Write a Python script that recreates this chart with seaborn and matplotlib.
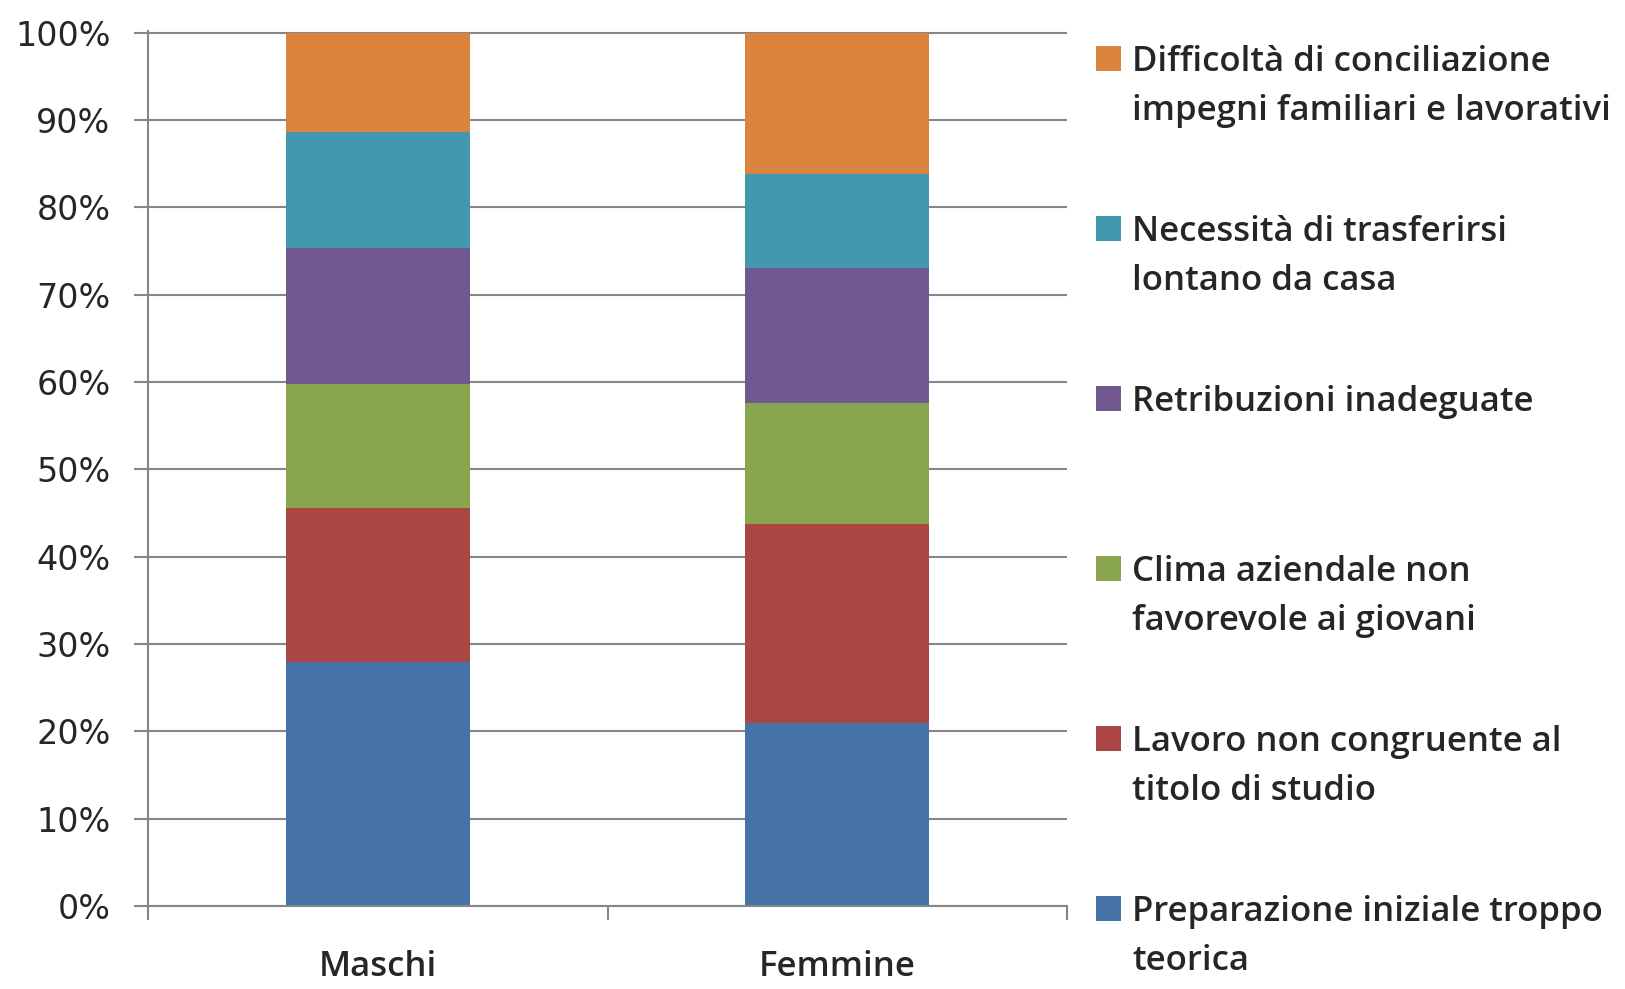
import matplotlib.pyplot as plt
import pandas as pd
import seaborn as sns
from matplotlib.patches import Rectangle
from matplotlib.ticker import FixedLocator, PercentFormatter

sns.set_theme(style="white")
plt.rcParams["font.family"] = ["DejaVu Sans"]

W, H = 1625, 989
GRID = "#868686"
TEXT_FONT = ["Open Sans", "DejaVu Sans"]

categories = ["Maschi", "Femmine"]
series = [
    "Preparazione iniziale troppo\nteorica",
    "Lavoro non congruente al\ntitolo di studio",
    "Clima aziendale non\nfavorevole ai giovani",
    "Retribuzioni inadeguate",
    "Necessità di trasferirsi\nlontano da casa",
    "Difficoltà di conciliazione\nimpegni familiari e lavorativi",
]
colors = ["#4572A7", "#AA4643", "#89A54E", "#71588F", "#4198AF", "#DB843D"]
maschi = [27.9, 17.7, 14.2, 15.5, 13.3, 11.4]
femmine = [20.9, 22.8, 13.9, 15.5, 10.7, 16.2]

rows = []
for i, s in enumerate(series):
    for cat, vals in zip(categories, [maschi, femmine]):
        rows.append({"category": cat, "series": s, "value": vals[i]})
df = pd.DataFrame(rows)
df["cum"] = df.groupby("category")["value"].cumsum()

fig = plt.figure(figsize=(W / 100, H / 100), dpi=100)
ax = fig.add_axes([148 / W, 1 - 906 / H, (1067 - 148) / W, (906 - 31) / H])

# stacked bars: draw cumulative totals from the top series down
for s, c in reversed(list(zip(series, colors))):
    sub = df[df["series"] == s]
    sns.barplot(
        data=sub, x="category", y="cum", order=categories, color=c,
        width=0.4, linewidth=0, saturation=1, errorbar=None, ax=ax, zorder=2,
    )

ax.set_xlabel("")
ax.set_ylabel("")
ax.set_xlim(-0.5, 1.5)
ax.set_ylim(0, 100.2)
ax.yaxis.set_major_locator(FixedLocator(range(0, 101, 10)))
ax.yaxis.set_major_formatter(PercentFormatter(decimals=0))
ax.yaxis.grid(True, color=GRID, linewidth=1.5)
ax.set_axisbelow(True)

for side in ["top", "right"]:
    ax.spines[side].set_visible(False)
for side in ["left", "bottom"]:
    ax.spines[side].set_color(GRID)
    ax.spines[side].set_linewidth(1.5)

ax.tick_params(axis="y", direction="out", length=10, width=1.5, color=GRID,
               pad=17, labelsize=24, left=True)
ax.xaxis.set_minor_locator(FixedLocator([-0.5, 0.5, 1.5]))
ax.tick_params(axis="x", which="major", length=0, pad=32, labelsize=25)
ax.tick_params(axis="x", which="minor", direction="out", length=10, width=1.5,
               color=GRID, bottom=True)
for lab in ax.get_xticklabels():
    lab.set_family(TEXT_FONT)
    lab.set_fontweight("semibold")

# legend, top entry first, marker on the first line
for k, (s, c) in enumerate(reversed(list(zip(series, colors)))):
    base = 71 + k * 170
    fig.add_artist(Rectangle((1096 / W, 1 - base / H), 25 / W, 25 / H,
                             transform=fig.transFigure, color=c, linewidth=0))
    for j, line in enumerate(s.split("\n")):
        fig.text(1132 / W, 1 - (base + j * 49) / H, line, ha="left",
                 va="baseline", fontsize=25, fontweight="semibold",
                 family=TEXT_FONT)

fig.savefig("out.png", dpi=100)
